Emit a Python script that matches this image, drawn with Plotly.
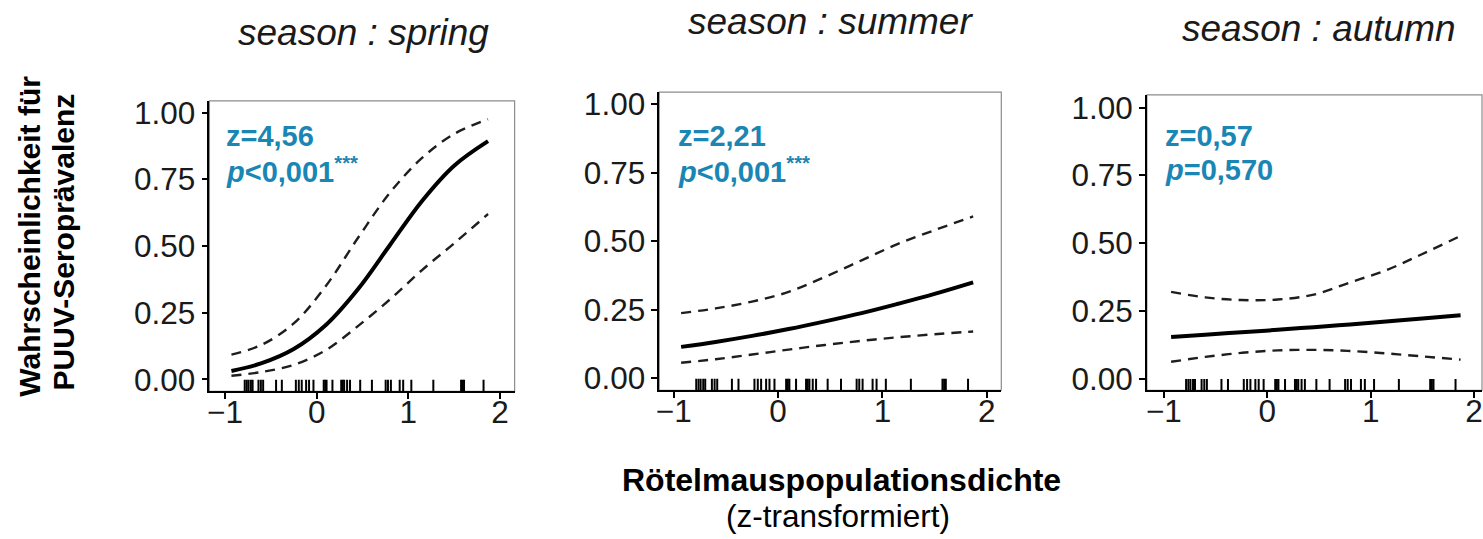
import plotly.graph_objects as go

# ---------------- data ----------------
seasons = ["spring", "summer", "autumn"]
x_grid = [-0.93, -0.6, -0.25, 0.1, 0.45, 0.8, 1.15, 1.5, 1.87]

spring_fit = [0.032, 0.061, 0.114, 0.204, 0.338, 0.504, 0.669, 0.801, 0.893]
spring_upper = [0.093, 0.13, 0.21, 0.35, 0.53, 0.70, 0.83, 0.92, 0.975]
spring_lower = [0.014, 0.028, 0.055, 0.11, 0.20, 0.30, 0.41, 0.51, 0.62]

summer_fit = [0.115, 0.133, 0.155, 0.180, 0.208, 0.238, 0.272, 0.308, 0.350]
summer_upper = [0.238, 0.255, 0.28, 0.315, 0.37, 0.43, 0.49, 0.54, 0.59]
summer_lower = [0.057, 0.07, 0.087, 0.105, 0.122, 0.137, 0.150, 0.161, 0.171]

autumn_fit = [0.154, 0.162, 0.171, 0.180, 0.190, 0.200, 0.211, 0.222, 0.234]
autumn_upper = [0.32, 0.30, 0.29, 0.292, 0.31, 0.355, 0.40, 0.46, 0.527]
autumn_lower = [0.062, 0.080, 0.095, 0.104, 0.106, 0.102, 0.093, 0.082, 0.070]

rug_x = [-0.785, -0.763, -0.743, -0.718, -0.699, -0.635, -0.609, -0.584,
         -0.443, -0.380, -0.227, -0.195, -0.163, -0.115, -0.083, -0.035,
         0.077, 0.093, 0.108, 0.172, 0.268, 0.284, 0.300, 0.332, 0.364,
         0.475, 0.603, 0.753, 0.778, 0.810, 0.906, 0.944, 1.033, 1.273,
         1.576, 1.592, 1.608, 1.821]

z_labels = ["z=4,56", "z=2,21", "z=0,57"]
p_labels = ["<i>p</i>&lt;0,001<sup>***</sup>",
            "<i>p</i>&lt;0,001<sup>***</sup>",
            "<i>p</i>=0,570"]

y_ticks = [0, 0.25, 0.5, 0.75, 1.0]
x_ticks = [-1, 0, 1, 2]

fits = [spring_fit, summer_fit, autumn_fit]
uppers = [spring_upper, summer_upper, autumn_upper]
lowers = [spring_lower, summer_lower, autumn_lower]

# ---------------- layout geometry (pixels in a 1483x539 page) ----------------
W, H = 1483, 539
panels = [
    dict(l=207, r=513, t=97, b=394, xr=[-1.17, 2.16], yr=[-0.044, 1.044]),
    dict(l=658, r=1001, t=88, b=393, xr=[-1.14, 2.14], yr=[-0.043, 1.043]),
    dict(l=1147, r=1483, t=91, b=393, xr=[-1.164, 2.077], yr=[-0.043, 1.047]),
]
titles_pos = [(361, 27), (830, 16), (1320, 23)]
ann_x = [222, 675, 1163]

BLUE = "#1a86b4"
FONT = "Liberation Sans, Arial, sans-serif"

fig = go.Figure()
layout = dict(
    width=W, height=H, margin=dict(l=0, r=0, t=0, b=0),
    paper_bgcolor="white", plot_bgcolor="white", showlegend=False,
    font=dict(family=FONT, color="black"),
)
annotations = []
shapes = []

for i, p in enumerate(panels):
    n = "" if i == 0 else str(i + 1)
    xa, ya = "x" + n, "y" + n
    for band in (uppers[i], lowers[i]):
        fig.add_trace(go.Scatter(
            x=x_grid, y=band, xaxis=xa, yaxis=ya, mode="lines",
            line=dict(color="#1e1e1e", width=2.4, dash="10px,7px", shape="spline"),
            hoverinfo="skip"))
    fig.add_trace(go.Scatter(
        x=x_grid, y=fits[i], xaxis=xa, yaxis=ya, mode="lines",
        line=dict(color="black", width=4, shape="spline"), hoverinfo="skip"))
    fig.add_trace(go.Scatter(
        x=rug_x, y=[-0.027] * len(rug_x), xaxis=xa, yaxis=ya, mode="markers",
        marker=dict(symbol="line-ns", size=10, line=dict(color="black", width=2)),
        hoverinfo="skip"))

    axis_common = dict(
        showgrid=False, zeroline=False, showline=True, linecolor="black",
        linewidth=1.5, ticks="outside", ticklen=6, tickwidth=1.5,
        tickcolor="black", tickfont=dict(size=31.5, family=FONT, color="#1a1a1a"),
        ticklabeloverflow="allow",
    )
    layout["xaxis" + n] = dict(
        axis_common, domain=[p["l"] / W, p["r"] / W], range=p["xr"],
        anchor=ya, tickvals=x_ticks, ticktext=["\u22121", "0", "1", "2"],
        ticklabelstandoff=-14)
    layout["yaxis" + n] = dict(
        axis_common, domain=[1 - p["b"] / H, 1 - p["t"] / H], range=p["yr"],
        anchor=xa, tickvals=y_ticks, tickformat=".2f")

    shapes.append(dict(
        type="rect", xref=xa + " domain", yref=ya + " domain",
        x0=0, x1=1, y0=0, y1=1, line=dict(color="#8c8c8c", width=1.2),
        layer="below"))

    tx, ty = titles_pos[i]
    annotations.append(dict(
        text="<i>season : " + seasons[i] + "</i>", xref="paper", yref="paper",
        x=tx / W, y=1 - ty / H, xanchor="center", yanchor="middle",
        showarrow=False, font=dict(size=37, family=FONT, color="#1a1a1a")))
    annotations.append(dict(
        text="<b>" + z_labels[i] + "</b>", xref="paper", yref="paper",
        x=ann_x[i] / W, y=1 - 133 / H, xanchor="left", yanchor="middle",
        showarrow=False, font=dict(size=29, family=FONT, color=BLUE)))
    annotations.append(dict(
        text="<b>" + p_labels[i] + "</b>", xref="paper", yref="paper",
        x=ann_x[i] / W, y=1 - 168 / H, xanchor="left", yanchor="middle",
        showarrow=False, font=dict(size=29, family=FONT, color=BLUE)))

annotations.append(dict(
    text="<b>Rötelmauspopulationsdichte</b>", xref="paper", yref="paper",
    x=841 / W, y=1 - 485 / H, xanchor="center", yanchor="middle",
    showarrow=False, font=dict(size=32, family=FONT, color="black")))
annotations.append(dict(
    text="(z-transformiert)", xref="paper", yref="paper",
    x=837 / W, y=1 - 522 / H, xanchor="center", yanchor="middle",
    showarrow=False, font=dict(size=31.5, family=FONT, color="black")))
annotations.append(dict(
    text="<b>Wahrscheinlichkeit für</b>", xref="paper", yref="paper",
    x=27 / W, y=1 - 235 / H, xanchor="center", yanchor="middle", textangle=-90,
    showarrow=False, font=dict(size=30, family=FONT, color="black")))
annotations.append(dict(
    text="<b>PUUV-Seroprävalenz</b>", xref="paper", yref="paper",
    x=61 / W, y=1 - 241 / H, xanchor="center", yanchor="middle", textangle=-90,
    showarrow=False, font=dict(size=30, family=FONT, color="black")))

layout["annotations"] = annotations
layout["shapes"] = shapes
fig.update_layout(**layout)
fig.write_html("out.html")
